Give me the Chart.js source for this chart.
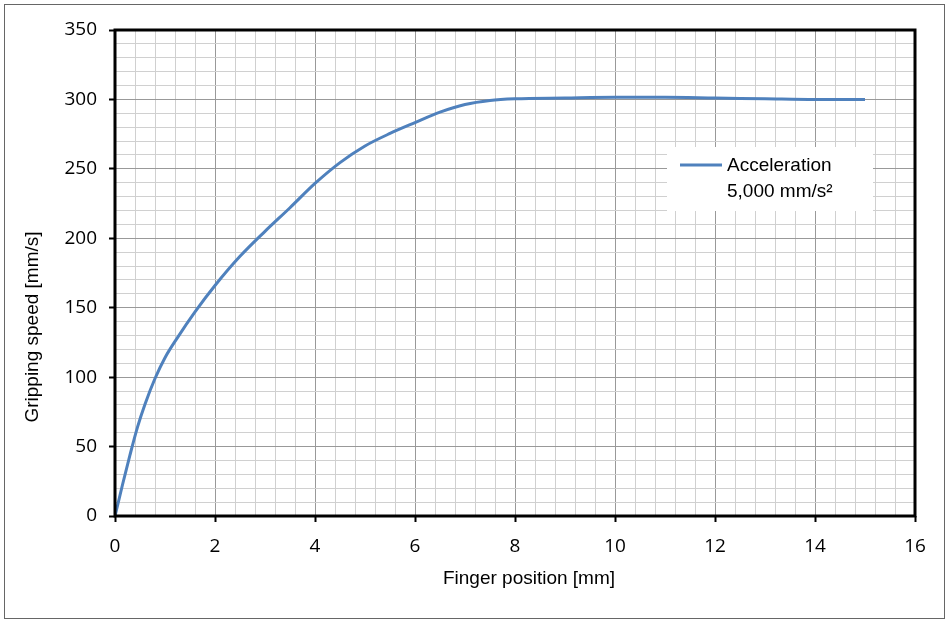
<!DOCTYPE html>
<html>
<head>
<meta charset="utf-8">
<script src="https://cdn.jsdelivr.net/npm/chart.js@4/dist/chart.umd.min.js"></script>
<style>
  html, body { margin: 0; padding: 0; background: #fff; }
  canvas { display: block; }
</style>
</head>
<body>
<canvas id="speed-chart" width="947" height="621"></canvas>
<script>
// finger position [mm] vs gripping speed [mm/s]
let positions = [0, 0.15, 0.3, 0.45, 0.6, 0.8, 1.0, 1.25, 1.6, 2.0, 2.5, 3.0, 3.5, 4.0, 4.5, 5.0, 5.5, 6.0, 6.5, 7.0, 7.5, 8, 9, 10, 11, 12, 13, 14, 15];
let speeds = [0, 22.5, 44, 64, 80.5, 99, 114, 128.5, 147, 166, 187, 205, 222, 239.5, 254.5, 266.5, 275.5, 283.3, 290.8, 296.3, 299.2, 300.4, 301, 301.5, 301.5, 301, 300.5, 300, 300];
let seriesLabel = ["Acceleration", "5,000 mm/s\u00b2"];
let xTitle = "Finger position [mm]";
let yTitle = "Gripping speed [mm/s]";

let points = positions.map((x, i) => ({ x: x, y: speeds[i] }));

function isMajor(v, every) {
    let q = v / every;
    return Math.abs(q - Math.round(q)) < 1e-6;
}

const frame = {
    id: "frame",
    beforeDraw(chart) {
        let ctx = chart.ctx;
        ctx.save();
        ctx.fillStyle = "#fff";
        ctx.fillRect(0, 0, chart.width, chart.height);
        ctx.strokeStyle = "#666";
        ctx.lineWidth = 1;
        ctx.strokeRect(4.5, 4.5, 940, 614);
        ctx.restore();
    },
    afterDraw(chart) {
        let ctx = chart.ctx;
        let a = chart.chartArea;
        ctx.save();
        // plot border
        ctx.strokeStyle = "#000";
        ctx.lineWidth = 3;
        ctx.strokeRect(a.left, a.top, a.right - a.left, a.bottom - a.top);

        // axis titles
        ctx.fillStyle = "#000";
        ctx.font = "19px 'Liberation Sans', Arial, sans-serif";
        ctx.textAlign = "center";
        ctx.textBaseline = "middle";
        ctx.fillText(xTitle, 529, 579);
        ctx.save();
        ctx.translate(33, 327);
        ctx.rotate(-Math.PI / 2);
        ctx.fillText(yTitle, 0, 0);
        ctx.restore();

        // legend box
        ctx.fillStyle = "#fff";
        ctx.fillRect(667, 147, 206, 64);
        ctx.strokeStyle = chart.data.datasets[0].borderColor;
        ctx.lineWidth = 3;
        ctx.beginPath();
        ctx.moveTo(680, 165);
        ctx.lineTo(722, 165);
        ctx.stroke();
        ctx.fillStyle = "#000";
        ctx.textAlign = "left";
        ctx.fillText(seriesLabel[0], 727, 166);
        ctx.fillText(seriesLabel[1], 727, 192);
        ctx.restore();
    }
};

new Chart("speed-chart", {
    type: "line",
    data: {
        datasets: [{
            label: seriesLabel.join(" "),
            data: points,
            borderColor: "#4f81bd",
            borderWidth: 3,
            pointRadius: 0,
            fill: false,
            cubicInterpolationMode: "monotone",
        }],
    },
    options: {
        responsive: false,
        animation: false,
        layout: { padding: { top: 30, right: 32, left: 0, bottom: 0 } },
        plugins: {
            legend: { display: false },
            tooltip: { enabled: false },
        },
        scales: {
            x: {
                type: "linear",
                min: 0,
                max: 16,
                afterFit(scale) { scale.height = 105; },
                border: { display: false },
                grid: {
                    color: (c) => isMajor(c.tick.value, 2) ? "#999" : "#d0d0d0",
                    tickColor: (c) => isMajor(c.tick.value, 2) ? "#000" : "rgba(0,0,0,0)",
                    tickLength: 6,
                    tickWidth: 2,
                },
                ticks: {
                    stepSize: 0.4,
                    autoSkip: false,
                    maxRotation: 0,
                    padding: 13,
                    color: "#000",
                    font: { family: "'Open Sans', sans-serif", size: 19 },
                    callback: (v) => isMajor(v, 2) ? Math.round(v) : "",
                },
            },
            y: {
                min: 0,
                max: 350,
                afterFit(scale) { scale.width = 115; },
                border: { display: false },
                grid: {
                    color: (c) => isMajor(c.tick.value, 50) ? "#999" : "#d0d0d0",
                    tickColor: (c) => isMajor(c.tick.value, 50) ? "#000" : "rgba(0,0,0,0)",
                    tickLength: 6,
                    tickWidth: 2,
                },
                ticks: {
                    stepSize: 10,
                    autoSkip: false,
                    padding: 12,
                    color: "#000",
                    font: { family: "'Open Sans', sans-serif", size: 19 },
                    callback: (v) => isMajor(v, 50) ? v : "",
                },
            },
        },
    },
    plugins: [frame],
});
</script>
</body>
</html>
